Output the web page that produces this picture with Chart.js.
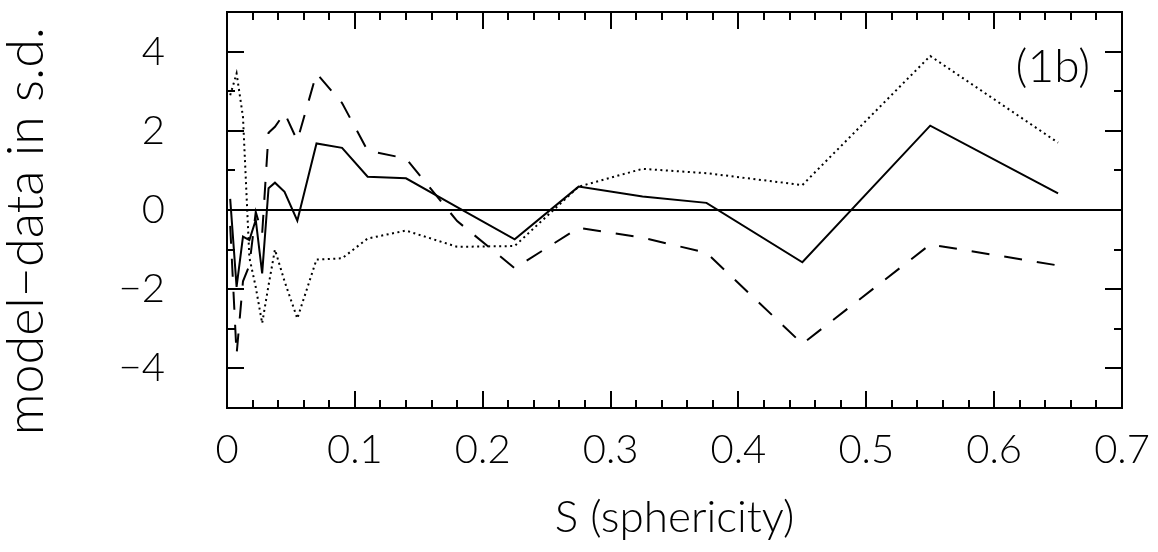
<!DOCTYPE html>
<html>
<head>
<meta charset="utf-8">
<title>model-data vs sphericity</title>
<script src="https://cdn.jsdelivr.net/npm/chart.js@4.4.1/dist/chart.umd.min.js"></script>
<style>
  html, body { margin: 0; padding: 0; background: #fff; }
  canvas { display: block; }
</style>
</head>
<body>
<canvas id="chart" width="1158" height="552"></canvas>
<script>
/* ── data: residuals (model − data, in s.d.) vs sphericity S ── */
const S_BINS = [0.0025, 0.0075, 0.0125, 0.0175, 0.0225, 0.0275, 0.0325, 0.0375, 0.045, 0.055,
                0.07, 0.09, 0.11, 0.14, 0.18, 0.225, 0.275, 0.325, 0.375, 0.45, 0.55, 0.65];

const SOLID  = [0.28, -1.94, -0.67, -0.76, -0.25, -1.6, 0.55, 0.69, 0.46, -0.27,
                1.68, 1.57, 0.84, 0.80, 0.07, -0.74, 0.59, 0.34, 0.18, -1.32, 2.13, 0.42];
const DASHED = [-0.4, -3.65, -1.8, -1.4, -0.05, -0.6, 1.95, 2.1, 2.45, 1.75,
                3.45, 2.7, 1.5, 1.3, -0.28, -1.47, -0.45, -0.7, -1.08, -3.38, -0.87, -1.4];
const DOTTED = [2.9, 3.45, 2.35, -1.2, -1.95, -2.86, -1.9, -1.0, -1.8, -2.74,
                -1.25, -1.22, -0.72, -0.52, -0.93, -0.91, 0.59, 1.04, 0.93, 0.63, 3.89, 1.70];

const X_TICKS = [0, 0.1, 0.2, 0.3, 0.4, 0.5, 0.6, 0.7];
const X_TICK_LABELS = ['0', '0.1', '0.2', '0.3', '0.4', '0.5', '0.6', '0.7'];
const Y_TICKS = [-4, -2, 0, 2, 4];
const Y_TICK_LABELS = ['\u22124', '\u22122', '0', '2', '4'];

const PANEL_TAG = '(1b)';

/* ── shared style ── */
const FONT_FAMILY = "Lato, 'Open Sans', sans-serif";
const INK = '#000';

const toPoints = ys => S_BINS.map((s, i) => ({ x: s, y: ys[i] }));

/* frame with inward ticks on all four sides, plus panel tag */
const frameTicks = {
    id: 'frameTicks',
    afterDatasetsDraw(chart) {
        const { ctx, chartArea: a, scales: { x, y } } = chart;
        ctx.save();
        ctx.strokeStyle = INK;
        ctx.lineWidth = 2;
        ctx.strokeRect(a.left, a.top, a.right - a.left, a.bottom - a.top);

        ctx.beginPath();
        // x: minor every 0.02, major every 0.1
        for (let i = 1; i < 35; i++) {
            const px = Math.round(x.getPixelForValue(i * 0.02));
            const len = i % 5 === 0 ? 17 : 8;
            ctx.moveTo(px, a.bottom); ctx.lineTo(px, a.bottom - len);
            ctx.moveTo(px, a.top);    ctx.lineTo(px, a.top + len);
        }
        // y: minor every 1, major every 2
        for (let v = -4; v <= 4; v++) {
            const py = Math.round(y.getPixelForValue(v));
            const len = v % 2 === 0 ? 17 : 8;
            ctx.moveTo(a.left, py);  ctx.lineTo(a.left + len, py);
            ctx.moveTo(a.right, py); ctx.lineTo(a.right - len, py);
        }
        ctx.stroke();

        ctx.fillStyle = INK;
        ctx.font = `300 46px ${FONT_FAMILY}`;
        ctx.textAlign = 'right';
        ctx.textBaseline = 'middle';
        ctx.fillText(PANEL_TAG, a.right - 32, y.getPixelForValue(3.6));
        ctx.restore();
    }
};

const lineStyle = { borderColor: INK, borderWidth: 2, pointRadius: 0, tension: 0, fill: false };

new Chart(document.getElementById('chart'), {
    type: 'line',
    data: {
        datasets: [
            { ...lineStyle, label: 'zero', data: [{ x: 0, y: 0 }, { x: 0.7, y: 0 }] },
            { ...lineStyle, label: 'solid', data: toPoints(SOLID) },
            { ...lineStyle, label: 'dashed', data: toPoints(DASHED), borderDash: [18, 15] },
            { ...lineStyle, label: 'dotted', data: toPoints(DOTTED), borderDash: [2, 3.5] }
        ]
    },
    options: {
        responsive: false,
        animation: false,
        devicePixelRatio: 1,
        layout: { padding: { top: 12, right: 36, left: 0, bottom: 0 } },
        plugins: { legend: { display: false }, tooltip: { enabled: false } },
        scales: {
            x: {
                type: 'linear', min: 0, max: 0.7,
                grid: { display: false, drawTicks: false },
                border: { display: false },
                afterBuildTicks: s => { s.ticks = X_TICKS.map(v => ({ value: v })); },
                afterFit: s => { s.height = 144; s.paddingLeft = 0; s.paddingRight = 0; },
                ticks: {
                    color: INK, padding: 18, maxRotation: 0, autoSkip: false,
                    font: { family: FONT_FAMILY, size: 40, weight: 300 },
                    callback: (v, i) => X_TICK_LABELS[i]
                },
                title: {
                    display: true, text: 'S (sphericity)', color: INK,
                    font: { family: FONT_FAMILY, size: 44, weight: 300 },
                    padding: { top: 8, bottom: 8 }
                }
            },
            y: {
                type: 'linear', min: -5, max: 5,
                grid: { display: false, drawTicks: false },
                border: { display: false },
                afterBuildTicks: s => { s.ticks = Y_TICKS.map(v => ({ value: v })); },
                afterFit: s => { s.width = 227; s.paddingTop = 0; s.paddingBottom = 0; },
                ticks: {
                    color: INK, padding: 62, autoSkip: false,
                    font: { family: FONT_FAMILY, size: 40, weight: 300 },
                    callback: (v, i) => Y_TICK_LABELS[i]
                },
                title: {
                    display: true, text: 'model\u2212data in s.d.   ', color: INK,
                    font: { family: FONT_FAMILY, size: 52, weight: 300, lineHeight: 1.0 },
                    padding: { top: 0, bottom: 0 }
                }
            }
        }
    },
    plugins: [frameTicks]
});
</script>
</body>
</html>
